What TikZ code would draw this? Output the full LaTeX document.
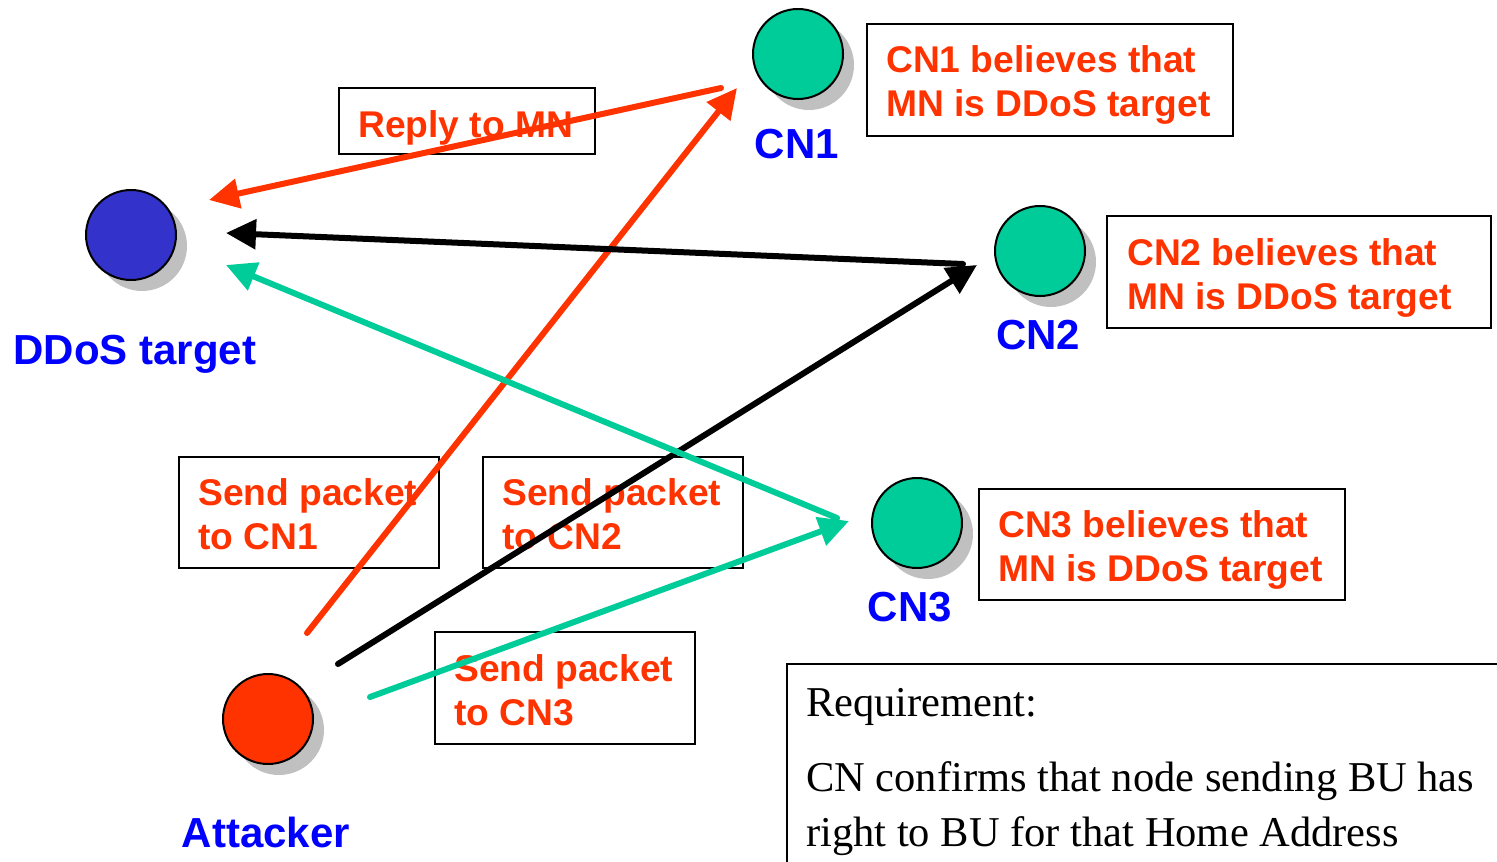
\documentclass[tikz,border=0pt]{standalone}
\usepackage{fontspec}
\setmainfont{Liberation Serif}
\newfontfamily\arialfont{Liberation Sans}
\usetikzlibrary{arrows.meta}
\definecolor{myred}{RGB}{255,51,0}
\definecolor{mygreen}{RGB}{0,204,153}
\definecolor{myblue}{RGB}{0,0,255}
\definecolor{ddosblue}{RGB}{51,51,204}
\definecolor{shadowgray}{RGB}{192,192,192}
\tikzset{
  host/.style={circle, draw=black, line width=2pt, minimum size=90pt, inner sep=0pt},
  hostshadow/.style={circle, fill=shadowgray, minimum size=90pt, inner sep=0pt},
  hostlabel/.style={anchor=base, text=myblue, font=\arialfont\bfseries\fontsize{42}{48}\selectfont, inner sep=0pt},
  msgbox/.style={draw=black, line width=1.5pt, inner sep=0pt},
  msgtext/.style={anchor=base west, align=left, inner sep=0pt,
    text=myred, font=\arialfont\bfseries\fontsize{37.2}{44}\selectfont},
  flow/.style={line width=6pt, line cap=round, -{Triangle[length=30pt,width=29pt]}},
}
\begin{document}
\begin{tikzpicture}[x=1pt,y=-1pt]
\useasboundingbox (0,0) rectangle (1497,862);
% shadows
\node[hostshadow] (sddos) at (142,246) {};
\node[hostshadow] (scn1) at (809,65) {};
\node[hostshadow] (scn2) at (1051,262) {};
\node[hostshadow] (scn3) at (928,534) {};
\node[hostshadow] (satt) at (279,730) {};
% hosts
\node[host, fill=ddosblue] (ddos) at (131,235) {};
\node[host, fill=mygreen] (cn1) at (798,54) {};
\node[host, fill=mygreen] (cn2) at (1040,251) {};
\node[host, fill=mygreen] (cn3) at (917,523) {};
\node[host, fill=myred] (att) at (268,719) {};
% labels
\node[hostlabel] (lddos) at (135,364) {DDoS target};
\node[hostlabel] (lcn1) at (797,158) {CN1};
\node[hostlabel] (lcn2) at (1038,349) {CN2};
\node[hostlabel] (lcn3) at (910,621) {CN3};
\node[hostlabel] (latt) at (266,847) {Attacker};
% message boxes
\node[msgbox, minimum width=256pt, minimum height=66pt] (reply) at (467,121) {};
\node[msgbox, minimum width=366pt, minimum height=112pt] (b1) at (1050,80) {};
\node[msgbox, minimum width=384pt, minimum height=112pt] (b2) at (1299,272) {};
\node[msgbox, minimum width=366pt, minimum height=111pt] (b3) at (1162,544.5) {};
\node[msgbox, minimum width=260pt, minimum height=111pt] (s1) at (309,512.5) {};
\node[msgbox, minimum width=260pt, minimum height=111pt] (s2) at (613,512.5) {};
\node[msgbox, minimum width=260pt, minimum height=112pt] (s3) at (565,688) {};
% message texts (anchored at the baseline of the last line)
\node[msgtext] (treply) at (358,137) {Reply to MN};
\node[msgtext] (tb1) at (886,116) {CN1 believes that\\MN is DDoS target};
\node[msgtext] (tb2) at (1127,309) {CN2 believes that\\MN is DDoS target};
\node[msgtext] (tb3) at (998,581) {CN3 believes that\\MN is DDoS target};
\node[msgtext] (ts1) at (198,549) {Send packet\\to CN1};
\node[msgtext] (ts2) at (502,549) {Send packet\\to CN2};
\node[msgtext] (ts3) at (454,725) {Send packet\\to CN3};
% requirement box
\begin{scope}
\clip (0,0) rectangle (1497,862);
\draw[line width=1.5pt] (787,880) -- (787,664) -- (1510,664);
\end{scope}
\node[anchor=base west, inner sep=0pt, font=\fontsize{42.5}{50}\selectfont] (req) at (806,716) {Requirement:};
\node[anchor=base west, inner sep=0pt, align=left, font=\fontsize{42.5}{55}\selectfont] (reqtext) at (806,846) {CN confirms that node sending BU has\\right to BU for that Home Address};
% connector end points
\coordinate (a1) at (307,633);
\coordinate (a2) at (338,664);
\coordinate (a3) at (370,697);
\coordinate (t1) at (737,88);
\coordinate (t2) at (977,265);
\coordinate (t3) at (849,521);
\coordinate (r1) at (721,88);
\coordinate (r2) at (963,264);
\coordinate (r3) at (837,518);
\coordinate (d1) at (209,200);
\coordinate (d2) at (226,233);
\coordinate (d3) at (226,265);
% flows
\draw[flow, myred] (a1) -- (t1);
\draw[flow, myred] (r1) -- (d1);
\draw[flow, black] (a2) -- (t2);
\draw[flow, black] (r2) -- (d2);
\draw[flow, mygreen] (a3) -- (t3);
\draw[flow, mygreen] (r3) -- (d3);
\end{tikzpicture}
\end{document}
